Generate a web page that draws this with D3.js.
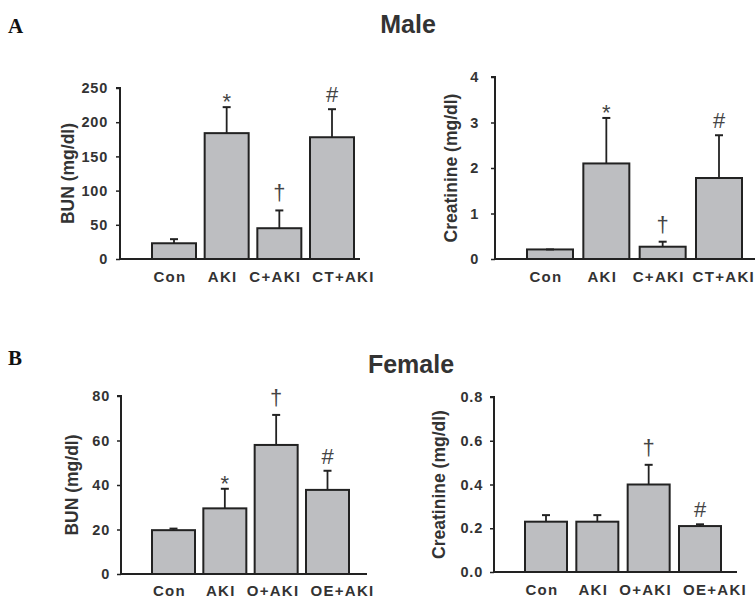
<!DOCTYPE html>
<html>
<head>
<meta charset="utf-8">
<script src="https://cdn.jsdelivr.net/npm/d3@7"></script>
<style>
  body { margin: 0; background: #fff; }
  svg { display: block; }
  text { font-family: "Liberation Sans", Arial, sans-serif; fill: #333; }
</style>
</head>
<body>
<div class="svgContainer"></div>
<script>
// data
const maleGroups = ['Con', 'AKI', 'C+AKI', 'CT+AKI'];
const femaleGroups = ['Con', 'AKI', 'O+AKI', 'OE+AKI'];

const maleBun = [23, 184, 45, 178];
const maleBunErr = [29, 222, 71, 219];
const maleBunMarks = ['', '*', '\u2020', '#'];

const maleCr = [0.21, 2.1, 0.27, 1.78];
const maleCrErr = [0.21, 3.1, 0.38, 2.72];
const maleCrMarks = ['', '*', '\u2020', '#'];

const femaleBun = [19.7, 29.5, 58, 37.8];
const femaleBunErr = [20.4, 38.3, 71.5, 46.4];
const femaleBunMarks = ['', '*', '\u2020', '#'];

const femaleCr = [0.23, 0.23, 0.40, 0.21];
const femaleCrErr = [0.26, 0.26, 0.49, 0.218];
const femaleCrMarks = ['', '', '\u2020', '#'];

const bunTicks = [0, 50, 100, 150, 200, 250];
const crTicks = [0, 1, 2, 3, 4];
const fBunTicks = [0, 20, 40, 60, 80];
const fCrTicks = [0, 0.2, 0.4, 0.6, 0.8];

const width = 756, height = 600;

const svg = d3.select('.svgContainer')
    .append('svg')
    .attr('width', width)
    .attr('height', height)
    .attr('viewBox', `0 0 ${width} ${height}`);

// panel letters + titles
svg.append('text').attr('x', 8).attr('y', 33)
    .style('font-family', '"Liberation Serif", "Times New Roman", serif')
    .style('font-weight', 'bold').style('font-size', '21px').style('fill', '#111')
    .text('A');
svg.append('text').attr('x', 8).attr('y', 365)
    .style('font-family', '"Liberation Serif", "Times New Roman", serif')
    .style('font-weight', 'bold').style('font-size', '21px').style('fill', '#111')
    .text('B');
svg.append('text').attr('x', 408).attr('y', 33).attr('text-anchor', 'middle')
    .style('font-weight', 'bold').style('font-size', '25px').text('Male');
svg.append('text').attr('x', 411).attr('y', 373).attr('text-anchor', 'middle')
    .style('font-weight', 'bold').style('font-size', '25px').text('Female');

function panel(opts) {
    const { groups, vals, errs, marks, ticks, fmt, label, tickPad,
            axisX, xEnd, yTop, yBot, barStart, barEnd, barW, labelX, catY } = opts;

    const n = groups.length;
    const gap = (barEnd - barStart - n * barW) / (n - 1);
    const step = barW + gap;

    const x = d3.scaleBand()
        .domain(groups)
        .range([barStart - gap / 2, barEnd + gap / 2])
        .paddingInner(gap / step)
        .paddingOuter(gap / step / 2);

    const y = d3.scaleLinear()
        .domain([0, ticks[ticks.length - 1]])
        .range([yBot, yTop]);

    const cx = d => x(d) + x.bandwidth() / 2;
    const g = svg.append('g');

    // bars
    g.selectAll('.bar')
        .data(vals)
        .enter().append('rect')
        .attr('x', (d, i) => x(groups[i]))
        .attr('y', d => y(d))
        .attr('width', x.bandwidth())
        .attr('height', d => y(0) - y(d))
        .attr('fill', '#bdbec1')
        .attr('stroke', '#222')
        .attr('stroke-width', 2);

    // error bars (upper only)
    const eb = g.selectAll('.err')
        .data(errs)
        .enter().append('g');
    eb.append('line')
        .attr('x1', (d, i) => cx(groups[i]))
        .attr('x2', (d, i) => cx(groups[i]))
        .attr('y1', (d, i) => y(vals[i]))
        .attr('y2', d => y(d))
        .attr('stroke', '#222').attr('stroke-width', 1.8);
    eb.append('line')
        .attr('x1', (d, i) => cx(groups[i]) - 4)
        .attr('x2', (d, i) => cx(groups[i]) + 4)
        .attr('y1', d => y(d))
        .attr('y2', d => y(d))
        .attr('stroke', '#222').attr('stroke-width', 2);

    // significance marks
    const markSize = { '*': 22, '\u2020': 22, '#': 22 };
    const markOff = { '*': -2, '\u2020': 10, '#': 7 };
    g.selectAll('.mark')
        .data(marks)
        .enter().append('text')
        .attr('x', (d, i) => cx(groups[i]))
        .attr('y', (d, i) => y(errs[i]) - (markOff[d] || 0))
        .attr('text-anchor', 'middle')
        .style('font-size', d => (markSize[d] || 16) + 'px')
        .style('fill', '#444')
        .text(d => d);

    // y axis
    const yAxis = g.append('g')
        .attr('transform', `translate(${axisX},0)`)
        .call(d3.axisLeft(y).tickValues(ticks).tickFormat(fmt).tickSize(4).tickPadding(tickPad));
    yAxis.select('.domain').attr('d', `M-4,${yTop}H0V${yBot}`).attr('stroke', '#222').attr('stroke-width', 2);
    yAxis.selectAll('.tick line').attr('stroke', '#222').attr('stroke-width', 1.5);
    yAxis.selectAll('.tick text')
        .style('font-family', '"Liberation Sans", Arial, sans-serif')
        .style('font-size', '14.5px').style('font-weight', 'bold')
        .style('letter-spacing', '0.8px').style('fill', '#333');

    // x axis baseline (no ticks)
    g.append('line')
        .attr('x1', axisX).attr('x2', xEnd)
        .attr('y1', y(0)).attr('y2', y(0))
        .attr('stroke', '#222').attr('stroke-width', 2);

    // category labels: centred under bars, pushed right when they would collide
    const cats = g.selectAll('.cat')
        .data(groups)
        .enter().append('text')
        .attr('y', catY)
        .style('font-size', '15px').style('font-weight', 'bold')
        .style('letter-spacing', '1.3px')
        .text(d => d);
    let prevEnd = -Infinity;
    cats.each(function (d) {
        const w = this.getComputedTextLength();
        let left = cx(d) - 4 - w / 2;
        if (left < prevEnd + 11) left = prevEnd + 11;
        if (left + w > width - 1) left = width - 1 - w;
        d3.select(this).attr('x', left);
        prevEnd = left + w;
    });

    // y label
    g.append('text')
        .attr('transform', `translate(${labelX},${(yTop + yBot) / 2}) rotate(-90)`)
        .attr('text-anchor', 'middle')
        .attr('dy', '0.35em')
        .style('font-size', '17.5px').style('font-weight', 'bold')
        .text(label);
}

panel({
    groups: maleGroups, vals: maleBun, errs: maleBunErr, marks: maleBunMarks,
    ticks: bunTicks, fmt: d3.format('d'), label: 'BUN (mg/dl)', tickPad: 8,
    axisX: 120, xEnd: 360, yTop: 88, yBot: 259,
    barStart: 152, barEnd: 354, barW: 44, labelX: 68, catY: 282
});
panel({
    groups: maleGroups, vals: maleCr, errs: maleCrErr, marks: maleCrMarks,
    ticks: crTicks, fmt: d3.format('d'), label: 'Creatinine (mg/dl)', tickPad: 12,
    axisX: 495, xEnd: 755, yTop: 77, yBot: 259,
    barStart: 527, barEnd: 742, barW: 46, labelX: 451, catY: 282
});
panel({
    groups: femaleGroups, vals: femaleBun, errs: femaleBunErr, marks: femaleBunMarks,
    ticks: fBunTicks, fmt: d3.format('d'), label: 'BUN (mg/dl)', tickPad: 7,
    axisX: 121, xEnd: 367, yTop: 396, yBot: 574,
    barStart: 152, barEnd: 349, barW: 43, labelX: 72, catY: 596
});
panel({
    groups: femaleGroups, vals: femaleCr, errs: femaleCrErr, marks: femaleCrMarks,
    ticks: fCrTicks, fmt: d3.format('.1f'), label: 'Creatinine (mg/dl)', tickPad: 7,
    axisX: 494, xEnd: 737, yTop: 397, yBot: 572,
    barStart: 525, barEnd: 721, barW: 42, labelX: 439, catY: 595
});
</script>
</body>
</html>
